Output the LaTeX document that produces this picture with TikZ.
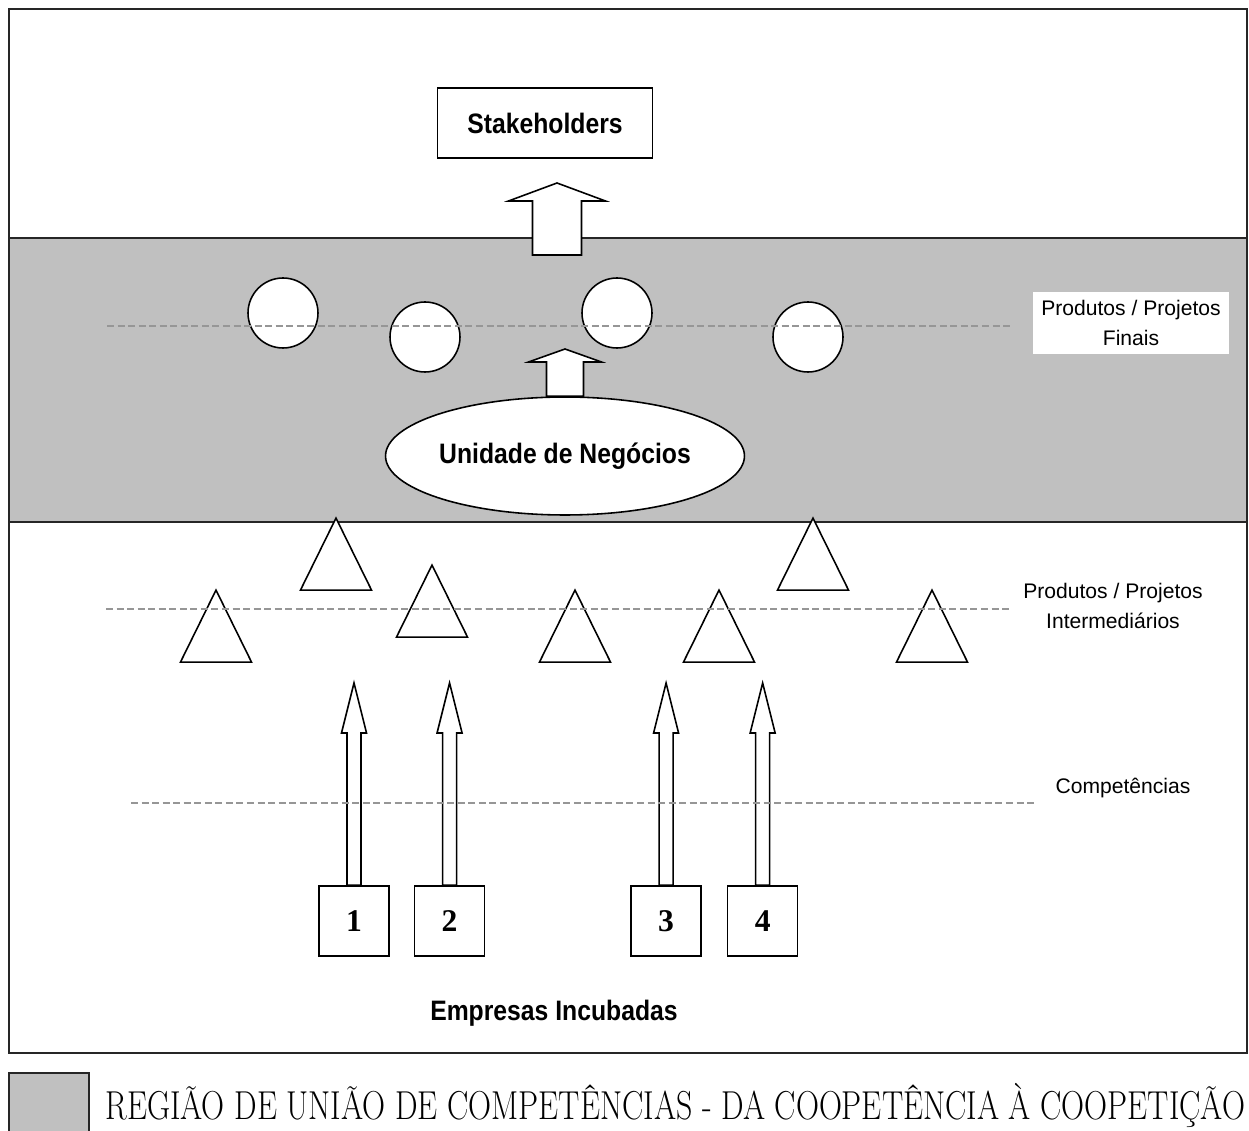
\documentclass[tikz,border=0pt]{standalone}
\usepackage{fontspec}
\usepackage{graphicx}
\newfontfamily\sansnarrow[FakeStretch=0.88]{Liberation Sans}
\newfontfamily\sanslabel{Liberation Sans}
\newfontfamily\serifnum{Liberation Serif}
\usepackage{tikz}
\usetikzlibrary{positioning, shapes.geometric, calc}

\definecolor{bandgray}{RGB}{192,192,192}
\definecolor{dashgray}{RGB}{150,150,150}

% hollow up arrow: base, tip, shaft half width, head half width, head length (px)
\newcommand{\blockarrow}[5]{%
  \draw[blockarr] ($(#1)+(-#3,0)$) -- ($(#2)+(-#3,#5)$) -- ($(#2)+(-#4,#5)$) -- (#2)
    -- ($(#2)+(#4,#5)$) -- ($(#2)+(#3,#5)$) -- ($(#1)+(#3,0)$) -- cycle;}

\begin{document}
\begin{tikzpicture}[
      x=0.02cm, y=-0.02cm,
      frameline/.style={draw=black!85, line width=1.1pt},
      box/.style={rectangle, draw, fill=white, line width=0.9pt, inner sep=0pt},
      bubble/.style={circle, draw, fill=white, line width=0.9pt, minimum size=1.4cm, inner sep=0pt},
      tri/.style={isosceles triangle, shape border rotate=90, isosceles triangle stretches,
        draw, fill=white, line width=0.9pt, minimum width=1.42cm, minimum height=1.44cm,
        inner sep=0pt, anchor=apex},
      blockarr/.style={draw, fill=white, line width=0.9pt, line join=miter},
      guide/.style={draw=dashgray, line width=0.8pt, dash pattern=on 4pt off 2pt},
      levellabel/.style={font=\sanslabel\fontsize{12}{17.5}\selectfont, align=center, inner sep=2pt},
      heading/.style={font=\sansnarrow\bfseries\fontsize{16}{19}\selectfont},
      company/.style={box, minimum size=1.4cm, font=\serifnum\bfseries\fontsize{18}{20}\selectfont}
    ]
      \useasboundingbox (0,0) rectangle (1249,1131);
      \fill[white] (0,0) rectangle (1249,1131);

      % frame and region of union
      \fill[bandgray] (9,238) rectangle (1247,522);
      \draw[frameline] (9,9) rectangle (1247,1053);
      \draw[frameline] (9,238) -- (1247,238);
      \draw[frameline] (9,522) -- (1247,522);

      \node[box, heading, minimum width=4.3cm, minimum height=1.4cm] (stake) at (545,123) {Stakeholders};

      % final products
      \node[bubble] (fin1) at (283,313) {};
      \node[bubble] (fin2) at (425,337) {};
      \node[bubble] (fin3) at (617,313) {};
      \node[bubble] (fin4) at (808,337) {};

      \node[ellipse, draw, fill=white, line width=0.9pt, minimum width=7.18cm, minimum height=2.36cm,
        inner sep=0pt, heading] (unit) at (565,456) {Unidade de Negócios};

      % intermediate products
      \foreach \x/\y [count=\i] in {216/588, 336/516, 432/563, 575/588, 719/588, 813/516, 932/588}
        \node[tri] (mid\i) at (\x,\y) {};

      % incubated companies
      \node[company] (emp1) at (354,921) {1};
      \node[company, right=0.48cm of emp1] (emp2) {2};
      \node[company, right=2.9cm of emp2] (emp3) {3};
      \node[company, right=0.5cm of emp3] (emp4) {4};
      \node[heading] (incub) at (554,1013) {Empresas Incubadas};

      % arrows
      \coordinate (stakeBase) at (557,255);
      \coordinate (stakeTip) at (557,183);
      \blockarrow{stakeBase}{stakeTip}{24.5}{48.5}{18}
      \coordinate (unitTip) at (unit.north |- 0,349);
      \blockarrow{unit.north}{unitTip}{18.5}{36.5}{13}
      \foreach \i in {1,...,4} {
        \coordinate (compTip\i) at (emp\i.north |- 0,683);
        \blockarrow{emp\i.north}{compTip\i}{7}{12.5}{50}
      }

      % levels
      \draw[guide] (107,326) -- (1012,326);
      \draw[guide] (106,609) -- (1012,609);
      \draw[guide] (131,803) -- (1036,803);
      \node[levellabel, fill=white, minimum width=3.92cm, minimum height=1.26cm] (finLabel) at (1131,323) {Produtos / Projetos\\Finais};
      \node[levellabel] (midLabel) at (1113,606) {Produtos / Projetos\\Intermediários};
      \node[levellabel] (compLabel) at (1123,788) {Competências};

      % legend
      \fill[bandgray] (9,1073) rectangle (89,1131);
      \draw[frameline] (9,1131) -- (9,1073) -- (89,1073) -- (89,1131);
      \node[anchor=base west, inner sep=0pt] (legend) at (105,1119)
        {\resizebox{22.8cm}{\height}{\fontsize{23}{26}\selectfont REGIÃO DE UNIÃO DE COMPETÊNCIAS - DA COOPETÊNCIA À COOPETIÇÃO}};
    \end{tikzpicture}
\end{document}
